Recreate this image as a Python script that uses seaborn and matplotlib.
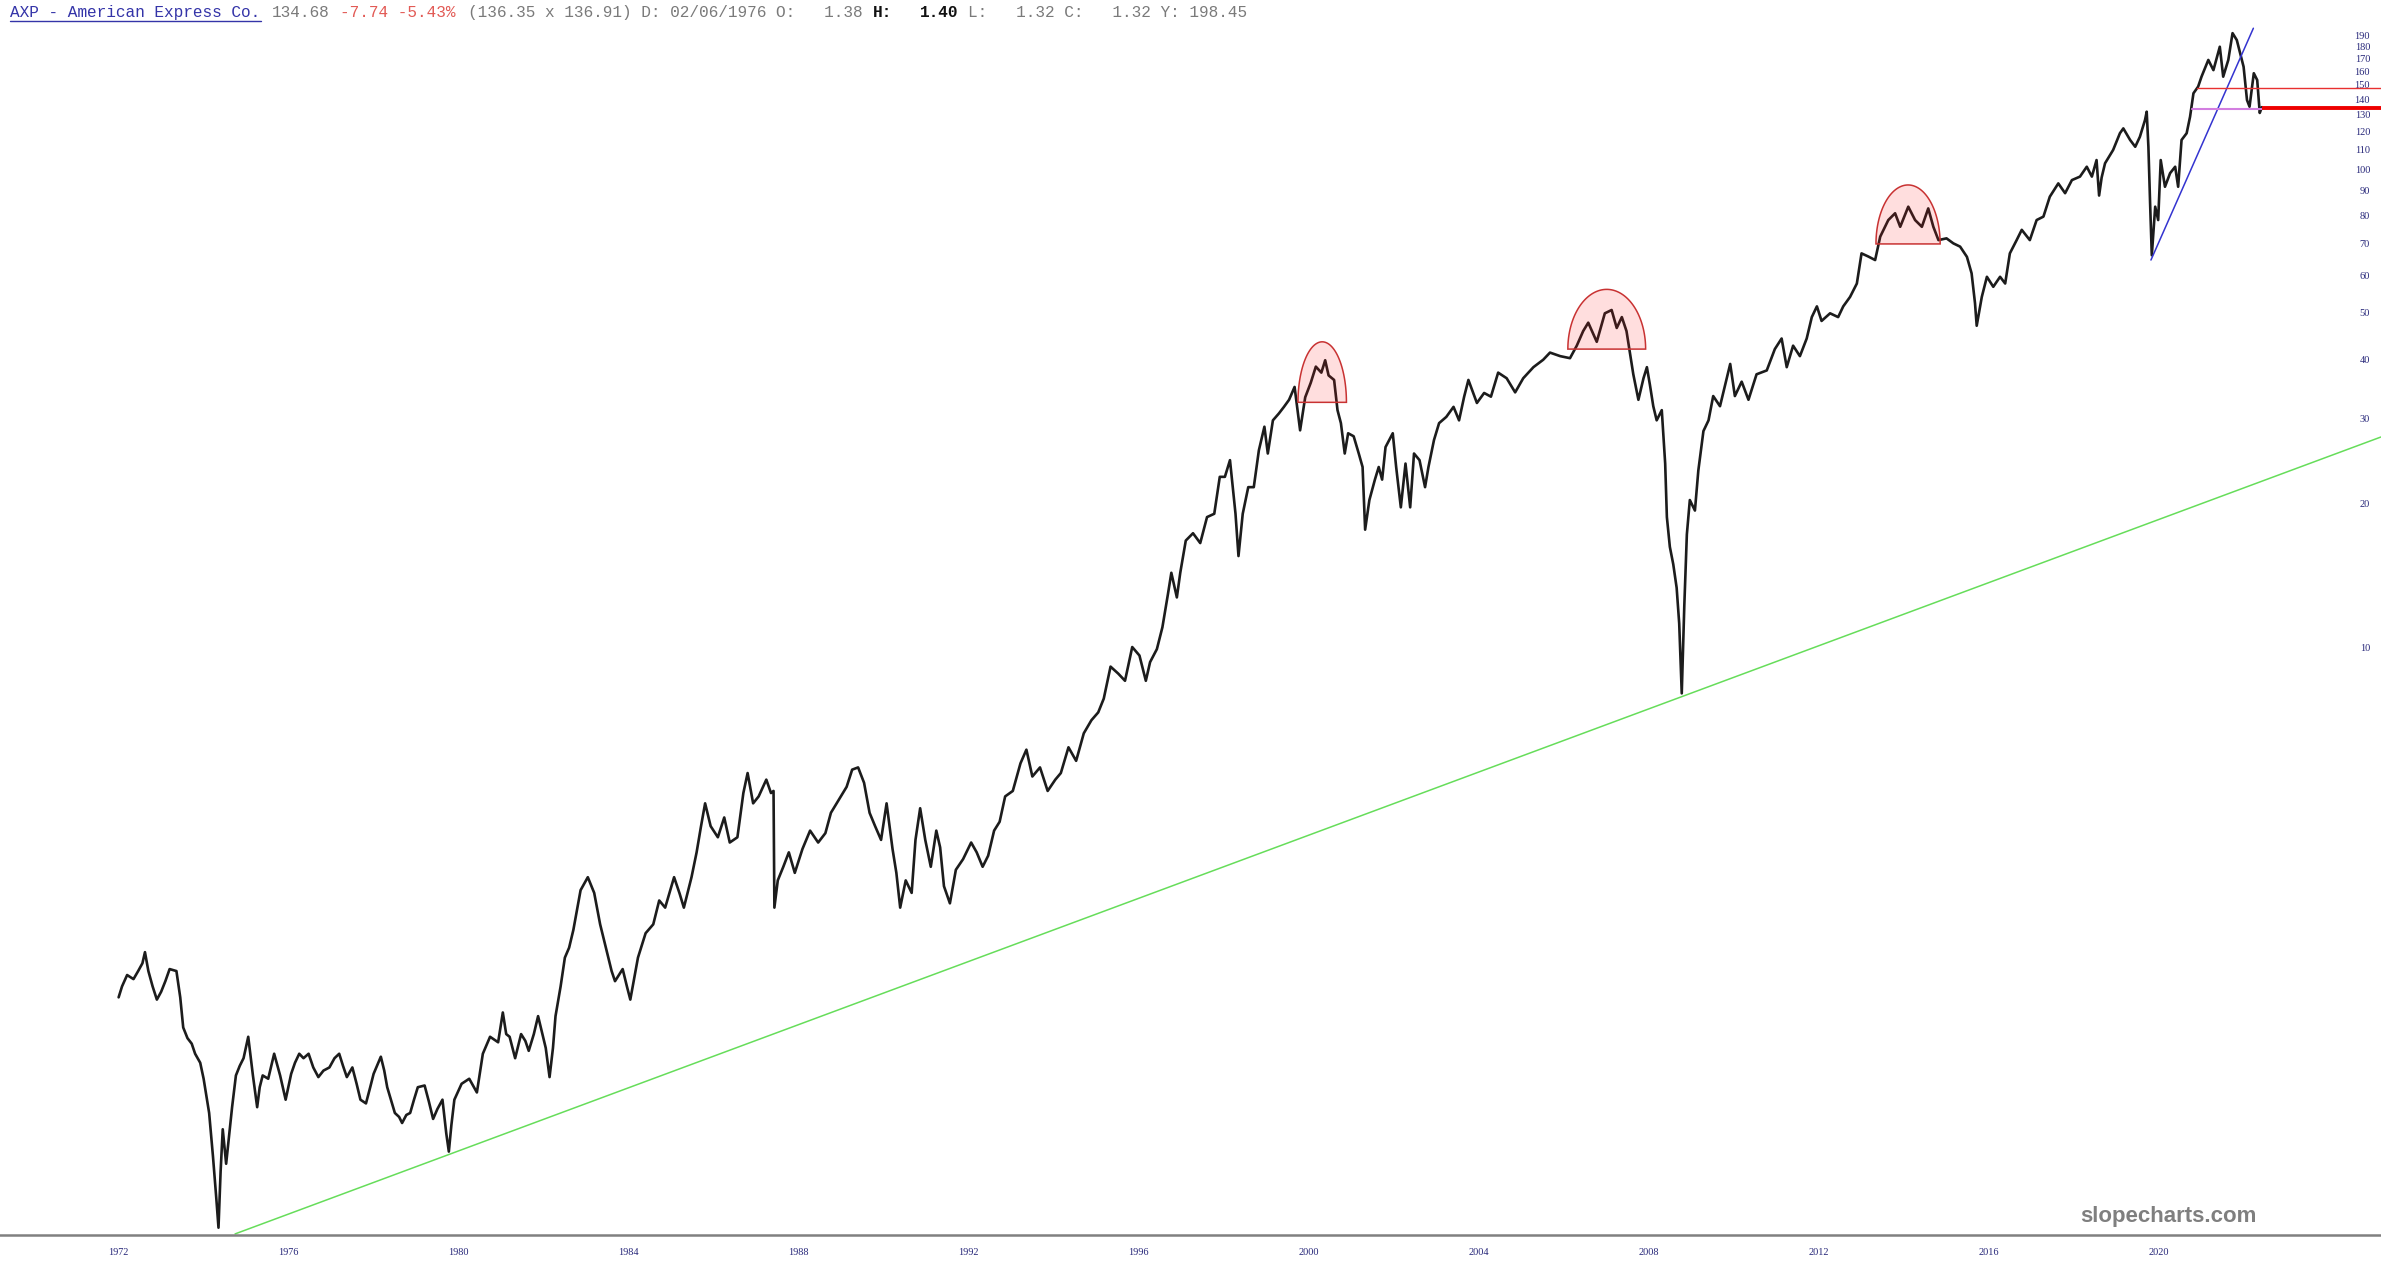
import numpy as np
import pandas as pd
import matplotlib
matplotlib.use("Agg")
import matplotlib.pyplot as plt
import seaborn as sns
from matplotlib.lines import Line2D
from matplotlib.ticker import NullLocator, NullFormatter

# ---------------- price data (x = position in years, y = price) -------------
years_1972_1982 = [1972.00, 1972.08, 1972.20, 1972.35, 1972.46, 1972.56, 1972.62, 1972.70, 1972.80, 1972.90,
                   1973.00, 1973.10, 1973.20, 1973.36, 1973.45, 1973.52, 1973.62, 1973.72, 1973.80, 1973.92,
                   1974.00, 1974.13, 1974.22, 1974.30, 1974.35, 1974.40, 1974.45, 1974.53, 1974.60, 1974.67,
                   1974.76, 1974.85, 1974.94, 1975.05, 1975.16, 1975.26, 1975.32, 1975.39, 1975.52, 1975.66,
                   1975.80, 1975.93, 1976.06, 1976.15, 1976.25, 1976.35, 1976.47, 1976.58, 1976.70, 1976.82,
                   1976.96, 1977.08, 1977.19, 1977.28, 1977.37, 1977.50, 1977.60, 1977.69, 1977.82, 1977.92,
                   1978.00, 1978.17, 1978.25, 1978.32, 1978.42, 1978.50, 1978.60, 1978.67, 1978.77, 1978.86,
                   1978.95, 1979.04, 1979.20, 1979.30, 1979.40, 1979.50, 1979.62, 1979.71, 1979.77, 1979.83,
                   1979.90, 1980.07, 1980.25, 1980.43, 1980.57, 1980.74, 1980.93, 1981.04, 1981.12, 1981.20,
                   1981.33, 1981.47, 1981.57, 1981.65, 1981.77, 1981.87, 1981.95, 1982.05, 1982.14, 1982.22]
price_1972_1982 = [1.85, 1.95, 2.06, 2.02, 2.10, 2.18, 2.30, 2.10, 1.95, 1.83,
                   1.90, 2.00, 2.12, 2.10, 1.85, 1.60, 1.52, 1.48, 1.41, 1.35,
                   1.25, 1.06, 0.86, 0.70, 0.61, 0.80, 0.98, 0.83, 0.95, 1.09,
                   1.27, 1.33, 1.38, 1.53, 1.27, 1.09, 1.20, 1.27, 1.25, 1.41,
                   1.27, 1.13, 1.28, 1.35, 1.41, 1.38, 1.41, 1.32, 1.26, 1.30,
                   1.32, 1.38, 1.41, 1.33, 1.26, 1.32, 1.22, 1.13, 1.11, 1.20,
                   1.28, 1.39, 1.30, 1.20, 1.12, 1.06, 1.04, 1.01, 1.05, 1.06,
                   1.13, 1.20, 1.21, 1.12, 1.03, 1.08, 1.13, 0.96, 0.88, 1.00,
                   1.13, 1.22, 1.25, 1.17, 1.41, 1.53, 1.49, 1.72, 1.55, 1.53,
                   1.38, 1.55, 1.50, 1.43, 1.55, 1.69, 1.58, 1.45, 1.26, 1.45]

years_1982_1994 = [1982.28, 1982.40, 1982.50, 1982.60, 1982.70, 1982.87, 1983.04, 1983.19, 1983.33, 1983.50,
                   1983.60, 1983.68, 1983.86, 1983.96, 1984.04, 1984.12, 1984.22, 1984.40, 1984.58, 1984.72,
                   1984.86, 1985.07, 1985.20, 1985.30, 1985.48, 1985.60, 1985.70, 1985.80, 1985.93, 1986.10,
                   1986.25, 1986.38, 1986.56, 1986.70, 1986.80, 1986.93, 1987.06, 1987.24, 1987.35, 1987.41,
                   1987.43, 1987.51, 1987.64, 1987.77, 1987.91, 1988.09, 1988.27, 1988.46, 1988.63, 1988.76,
                   1988.95, 1989.13, 1989.26, 1989.40, 1989.54, 1989.67, 1989.80, 1989.94, 1990.07, 1990.21,
                   1990.30, 1990.39, 1990.52, 1990.66, 1990.75, 1990.86, 1990.98, 1991.11, 1991.24, 1991.33,
                   1991.42, 1991.56, 1991.70, 1991.87, 1992.06, 1992.19, 1992.33, 1992.46, 1992.60, 1992.73,
                   1992.86, 1993.04, 1993.22, 1993.36, 1993.50, 1993.68, 1993.86, 1994.04, 1994.17, 1994.35,
                   1994.53, 1994.71]
price_1982_1994 = [1.69, 1.95, 2.24, 2.35, 2.56, 3.10, 3.30, 3.06, 2.63, 2.28,
                   2.10, 2.00, 2.12, 1.95, 1.83, 2.00, 2.24, 2.52, 2.63, 2.95,
                   2.85, 3.30, 3.05, 2.85, 3.30, 3.72, 4.20, 4.71, 4.22, 4.00,
                   4.40, 3.90, 4.00, 4.95, 5.45, 4.71, 4.87, 5.28, 4.95, 5.00,
                   2.85, 3.25, 3.47, 3.72, 3.37, 3.78, 4.13, 3.90, 4.08, 4.50,
                   4.80, 5.10, 5.54, 5.60, 5.20, 4.50, 4.22, 3.95, 4.71, 3.78,
                   3.37, 2.85, 3.25, 3.06, 3.95, 4.60, 3.95, 3.47, 4.13, 3.81,
                   3.16, 2.91, 3.42, 3.60, 3.90, 3.72, 3.47, 3.66, 4.13, 4.31,
                   4.87, 5.00, 5.71, 6.10, 5.36, 5.60, 5.00, 5.28, 5.45, 6.17,
                   5.78, 6.60]

years_1994_2004 = [1994.89, 1995.05, 1995.18, 1995.34, 1995.52, 1995.68, 1995.85, 1996.02, 1996.17, 1996.27,
                   1996.43, 1996.56, 1996.69, 1996.77, 1996.90, 1996.98, 1997.11, 1997.28, 1997.45, 1997.61,
                   1997.78, 1997.91, 1998.03, 1998.15, 1998.28, 1998.35, 1998.45, 1998.58, 1998.71, 1998.83,
                   1998.96, 1999.04, 1999.16, 1999.30, 1999.42, 1999.54, 1999.67, 1999.80, 1999.92, 2000.05,
                   2000.17, 2000.30, 2000.39, 2000.47, 2000.60, 2000.68, 2000.76, 2000.85, 2000.93, 2001.06,
                   2001.18, 2001.27, 2001.33, 2001.43, 2001.56, 2001.65, 2001.73, 2001.81, 2001.98, 2002.06,
                   2002.17, 2002.28, 2002.39, 2002.48, 2002.61, 2002.74, 2002.82, 2002.95, 2003.07, 2003.24,
                   2003.41, 2003.54, 2003.66, 2003.76, 2003.96, 2004.13, 2004.29, 2004.46]
price_1994_2004 = [7.03, 7.30, 7.80, 9.10, 8.80, 8.50, 10.0, 9.60, 8.50, 9.30,
                   9.90, 11.0, 12.9, 14.3, 12.7, 14.3, 16.7, 17.3, 16.5, 18.7,
                   19.0, 22.7, 22.7, 24.6, 19.0, 15.5, 19.0, 21.6, 21.6, 25.8,
                   28.9, 25.4, 29.8, 30.8, 31.8, 32.9, 35.0, 28.4, 33.3, 35.7,
                   38.6, 37.5, 39.8, 37.0, 36.2, 31.3, 29.4, 25.4, 28.0, 27.6,
                   25.4, 23.8, 17.6, 20.3, 22.4, 23.8, 22.4, 26.2, 28.0, 23.8,
                   19.6, 24.2, 19.6, 25.4, 24.6, 21.6, 23.8, 27.1, 29.4, 30.3,
                   31.8, 29.8, 33.4, 36.2, 32.4, 34.0, 33.4, 37.5]

years_2004_2012 = [2004.66, 2004.86, 2005.05, 2005.29, 2005.52, 2005.68, 2005.92, 2006.15, 2006.31, 2006.46,
                   2006.58, 2006.78, 2006.97, 2007.13, 2007.25, 2007.37, 2007.48, 2007.56, 2007.64, 2007.76,
                   2007.88, 2007.96, 2008.03, 2008.11, 2008.19, 2008.31, 2008.39, 2008.43, 2008.50, 2008.58,
                   2008.66, 2008.72, 2008.78, 2008.84, 2008.90, 2008.97, 2009.09, 2009.17, 2009.29, 2009.41,
                   2009.52, 2009.68, 2009.92, 2010.03, 2010.19, 2010.35, 2010.54, 2010.78, 2010.97, 2011.13,
                   2011.25, 2011.40, 2011.56, 2011.72, 2011.84, 2011.96, 2012.07, 2012.27, 2012.46, 2012.58]
price_2004_2012 = [36.5, 34.1, 36.5, 38.5, 39.9, 41.3, 40.6, 40.2, 42.7, 45.8,
                   47.7, 43.5, 49.9, 50.7, 46.5, 49.0, 45.8, 41.3, 37.2, 32.9,
                   36.5, 38.5, 35.4, 31.9, 29.8, 31.3, 24.2, 18.7, 16.2, 14.9,
                   13.3, 11.2, 8.0, 12.2, 17.2, 20.3, 19.3, 23.4, 28.3, 29.8,
                   33.5, 31.9, 39.1, 33.5, 35.9, 32.9, 37.2, 37.9, 42.0, 44.2,
                   38.5, 42.7, 40.6, 44.2, 49.0, 51.6, 48.1, 49.9, 49.0, 51.6]

years_2012_2022 = [2012.74, 2012.90, 2013.01, 2013.17, 2013.33, 2013.45, 2013.64, 2013.80, 2013.92, 2014.11,
                   2014.27, 2014.43, 2014.58, 2014.70, 2014.82, 2015.01, 2015.17, 2015.33, 2015.49, 2015.60,
                   2015.68, 2015.72, 2015.84, 2015.96, 2016.11, 2016.27, 2016.39, 2016.50, 2016.66, 2016.78,
                   2016.97, 2017.13, 2017.29, 2017.44, 2017.64, 2017.80, 2017.96, 2018.15, 2018.31, 2018.43,
                   2018.54, 2018.60, 2018.66, 2018.74, 2018.93, 2019.09, 2019.17, 2019.33, 2019.45, 2019.56,
                   2019.68, 2019.72, 2019.76, 2019.80, 2019.84, 2019.92, 2019.99, 2020.05, 2020.15, 2020.27,
                   2020.39, 2020.46, 2020.54, 2020.66, 2020.74, 2020.82, 2020.93, 2021.01, 2021.17, 2021.29,
                   2021.44, 2021.52, 2021.64, 2021.74, 2021.84, 2021.92, 2022.00, 2022.08, 2022.14, 2022.24,
                   2022.32, 2022.38, 2022.43]
price_2012_2022 = [54.0, 57.6, 66.6, 65.6, 64.5, 72.2, 78.2, 80.8, 75.7, 83.4,
                   78.2, 75.7, 82.7, 75.7, 71.0, 71.6, 69.9, 68.8, 65.5, 60.5,
                   52.4, 47.0, 54.0, 59.5, 56.7, 59.5, 57.6, 66.6, 71.0, 74.6,
                   71.0, 78.2, 79.5, 87.5, 93.3, 89.0, 94.8, 96.4, 101.1, 96.4,
                   104.4, 88.0, 96.0, 102.8, 109.6, 118.8, 121.6, 115.0, 111.3, 116.8,
                   126.6, 131.8, 111.3, 84.8, 66.0, 83.4, 78.2, 104.4, 91.8, 98.0,
                   101.1, 91.8, 115.0, 118.8, 128.6, 144.0, 148.7, 156.0, 169.1, 161.0,
                   180.2, 156.0, 169.1, 192.4, 186.1, 174.5, 163.6, 139.4, 135.0, 158.6,
                   153.5, 131.0, 134.7]

# ---------------- axis labels ----------------
x_tick_years = [1972, 1976, 1980, 1984, 1988, 1992, 1996, 2000, 2004, 2008, 2012, 2016, 2020]
x_tick_labels = [str(y) for y in x_tick_years]
y_tick_values = [10, 20, 30, 40, 50, 60, 70, 80, 90, 100, 110, 120, 130, 140, 150, 160, 170, 180, 190]
y_tick_labels = [str(v) for v in y_tick_values]

# ---------------- drawn annotations ----------------
hump_start = [1999.75, 2006.10, 2013.35]
hump_end = [2000.89, 2007.93, 2014.86]
hump_base = [32.5, 42.0, 69.7]
hump_top = [43.5, 56.0, 92.6]

support_years = [1974.74, 2025.23]
support_prices = [0.592, 27.5]
trend_years = [2019.82, 2022.23]
trend_prices = [64.5, 197.0]
resist_years = [2020.90, 2025.23]
resist_prices = [147.5, 147.5]
base_years = [2020.78, 2022.43]
base_prices = [133.3, 133.3]
last_years = [2022.43, 2025.23]
last_prices = [134.0, 134.0]

# ---------------- figure ----------------
W, H = 2381, 1275
sns.set_theme(style="white")
plt.rcParams['font.family'] = ['Liberation Serif', 'DejaVu Sans']

fig = plt.figure(figsize=(W / 100, H / 100), dpi=100)
fig.patch.set_facecolor("white")
ax = fig.add_axes([0, 40 / H, 1, 1235 / H])
ax.set_facecolor("white")

years = years_1972_1982 + years_1982_1994 + years_1994_2004 + years_2004_2012 + years_2012_2022
prices = price_1972_1982 + price_1982_1994 + price_1994_2004 + price_2004_2012 + price_2012_2022
df = pd.DataFrame({"year": years, "price": prices})

sns.lineplot(data=df, x="year", y="price", ax=ax, color="#1c1c1c", linewidth=1.9,
             estimator=None, sort=False, zorder=3)

ax.set_yscale("log")
ax.set_xlim(1969.209, 2025.233)
ax.set_ylim(0.5889, 225.7)

# semicircle humps
for s, e, b, t in zip(hump_start, hump_end, hump_base, hump_top):
    th = np.linspace(0, np.pi, 120)
    cx, a = (s + e) / 2, (e - s) / 2
    xs = cx + a * np.cos(th)
    ys = b * (t / b) ** np.sin(th)
    ax.fill(xs, ys, facecolor=(1.0, 0.1, 0.1, 0.14), edgecolor="#c83232", linewidth=1.1, zorder=4)

# annotation lines
ax.plot(support_years, support_prices, color="#66dd5a", linewidth=1.1, zorder=2)
ax.plot(trend_years, trend_prices, color="#3434d0", linewidth=1.1, zorder=5)
ax.plot(resist_years, resist_prices, color="#e83030", linewidth=1.0, zorder=5)
ax.plot(base_years, base_prices, color="#d27ee0", linewidth=1.5, zorder=5)
ax.plot(last_years, last_prices, color="#ee0000", linewidth=2.8, zorder=5, solid_capstyle="butt")

# axes styling
for side in ["top", "left", "right"]:
    ax.spines[side].set_visible(False)
ax.spines["bottom"].set_color("#808080")
ax.spines["bottom"].set_linewidth(1.8)

navy = "#28287a"
ax.set_xticks(x_tick_years)
ax.set_xticklabels(x_tick_labels)
ax.tick_params(axis="x", length=0, pad=9.5, labelsize=7.4, labelcolor=navy)

ax.yaxis.tick_right()
ax.yaxis.set_minor_locator(NullLocator())
ax.yaxis.set_minor_formatter(NullFormatter())
ax.set_yticks(y_tick_values)
ax.set_yticklabels(y_tick_labels)
ax.yaxis.set_minor_locator(NullLocator())
ax.tick_params(axis="y", which="both", length=0, pad=-7.9, labelsize=7.5, labelcolor=navy)
for lab in ax.get_yticklabels():
    lab.set_horizontalalignment("right")
ax.set_xlabel("")
ax.set_ylabel("")
ax.grid(False)

# header text
mono = "Liberation Mono"
hy = 1 - 16.7 / H
def htext(xpx, s, color, weight="normal"):
    fig.text(xpx / W, hy, s, color=color, fontsize=11.6, family=mono, weight=weight, va="baseline", ha="left")

htext(10, "AXP - American Express Co.", "#3434a8")
fig.add_artist(Line2D([10 / W, 261 / W], [1 - 20.5 / H, 1 - 20.5 / H], color="#3434a8", linewidth=1.0))
htext(272, "134.68", "#7a7a7a")
htext(340, "-7.74 -5.43%", "#e25a55")
htext(468, "(136.35 x 136.91) D: 02/06/1976 O:   1.38", "#7a7a7a")
htext(873, "H:", "#111111", "bold")
htext(920, "1.40", "#111111", "bold")
htext(968, "L:   1.32 C:   1.32 Y: 198.45", "#7a7a7a")

# watermark
fig.text(2168 / W, 1 - 1222 / H, "slopecharts.com", color="#7f7f7f", fontsize=16,
         family="Liberation Sans", weight="bold", ha="center", va="baseline")

fig.savefig("out.png", dpi=100, facecolor="white")
